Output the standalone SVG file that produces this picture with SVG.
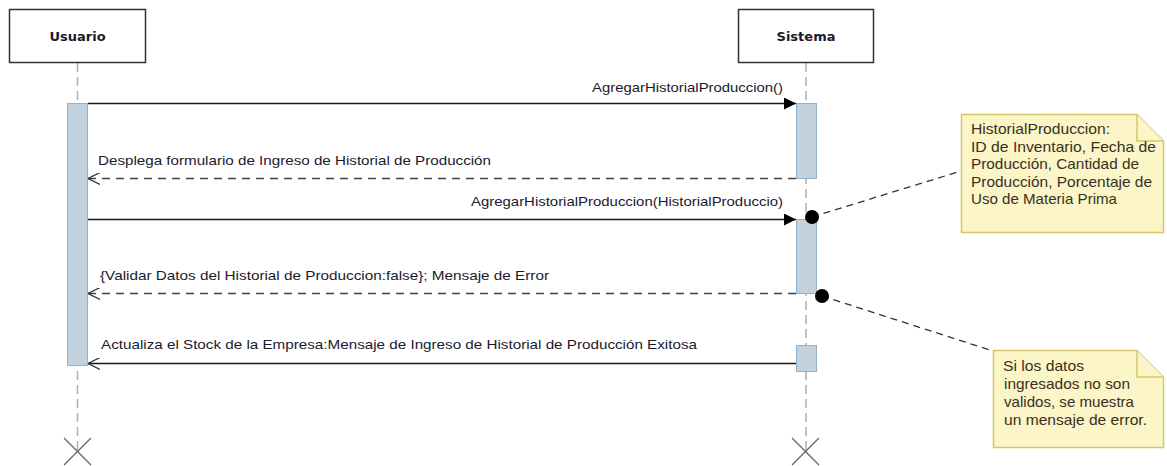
<svg xmlns="http://www.w3.org/2000/svg" width="1167" height="466" viewBox="0 0 1167 466">
<style>
.hd{fill:#fff;stroke:#333;stroke-width:1.5}
.ttl{font-family:"DejaVu Sans",sans-serif;font-weight:bold;font-size:13px;fill:#1a1a2e;text-anchor:middle}
.life{stroke:#b0b0b0;stroke-width:1.5;stroke-dasharray:9 5;fill:none}
.act{fill:#c2d3df;stroke:#8fb3cc;stroke-width:1}
.msg{stroke:#1a1a1a;stroke-width:1.3;fill:none}
.ret{stroke:#444;stroke-width:1.3;fill:none;stroke-dasharray:8 6}
.lbl{font-family:"Liberation Sans",Arial,sans-serif;font-size:13px;fill:#1a1a2e}
.note{fill:#fbf5c8;stroke:#d6c867;stroke-width:1.5}
.ntxt{font-family:"Liberation Sans",Arial,sans-serif;font-size:14.5px;fill:#3a3020}
.anc{stroke:#333;stroke-width:1.3;stroke-dasharray:7 5;fill:none}
.x{stroke:#666;stroke-width:1.3}
</style>
<defs>
<marker id="fill" viewBox="0 0 12 12" refX="12" refY="6" markerWidth="12" markerHeight="12" markerUnits="userSpaceOnUse" orient="auto">
<path d="M0,0 L12,6 L0,12 Z" fill="#000"/>
</marker>
<marker id="open" viewBox="0 0 12 12" refX="12" refY="6" markerWidth="12" markerHeight="12" markerUnits="userSpaceOnUse" orient="auto">
<path d="M0,0 L12,6 L0,12" fill="none" stroke="#333" stroke-width="1.2"/>
</marker>
</defs>
<g id="usuario">
<line class="life" x1="77.5" y1="63" x2="77.5" y2="451"/>
<rect class="hd" x="9.5" y="9.5" width="136" height="53"/>
<text class="ttl" x="77.5" y="41">Usuario</text>
<rect class="act" x="67.5" y="103.5" width="20" height="262"/>
<path class="x" d="M64,438 L91,465 M91,438 L64,465"/>
</g>
<g id="sistema">
<line class="life" x1="806" y1="63" x2="806" y2="451"/>
<rect class="hd" x="738.5" y="9.5" width="135" height="53"/>
<text class="ttl" x="806" y="41">Sistema</text>
<rect class="act" x="796.5" y="103.5" width="20" height="75"/>
<rect class="act" x="796.5" y="219.5" width="20" height="74"/>
<rect class="act" x="796.5" y="345.5" width="20" height="26"/>
<path class="x" d="M792,438 L819,465 M819,438 L792,465"/>
</g>
<g id="connectors">
<line class="msg" x1="88" y1="103.5" x2="796" y2="103.5" marker-end="url(#fill)"/>
<text class="lbl" x="592" y="92" textLength="191" lengthAdjust="spacingAndGlyphs">AgregarHistorialProduccion()</text>
<line class="ret" x1="796" y1="178.5" x2="88" y2="178.5" marker-end="url(#open)"/>
<text class="lbl" x="98" y="165" textLength="393" lengthAdjust="spacingAndGlyphs">Desplega formulario de Ingreso de Historial de Producción</text>
<line class="msg" x1="88" y1="219.5" x2="796" y2="219.5" marker-end="url(#fill)"/>
<text class="lbl" x="471" y="206" textLength="312" lengthAdjust="spacingAndGlyphs">AgregarHistorialProduccion(HistorialProduccio)</text>
<line class="ret" x1="796" y1="293.5" x2="88" y2="293.5" marker-end="url(#open)"/>
<text class="lbl" x="100" y="280" textLength="449" lengthAdjust="spacingAndGlyphs">{Validar Datos del Historial de Produccion:false}; Mensaje de Error</text>
<line class="msg" x1="796" y1="363.5" x2="88" y2="363.5" marker-end="url(#open)"/>
<text class="lbl" x="101" y="349" textLength="596" lengthAdjust="spacingAndGlyphs">Actualiza el Stock de la Empresa:Mensaje de Ingreso de Historial de Producción Exitosa</text>
<line class="anc" x1="812" y1="217" x2="961" y2="171"/>
<circle cx="812" cy="217" r="7" fill="#000"/>
<line class="anc" x1="822" y1="296" x2="993" y2="351"/>
<circle cx="822" cy="296" r="7" fill="#000"/>
</g>
<g id="note1">
<path class="note" d="M961.5,114.5 L1137,114.5 L1163.5,141 L1163.5,232.5 L961.5,232.5 Z"/>
<path class="note" d="M1137,114.5 L1137,141 L1163.5,141"/>
<text class="ntxt" x="971" y="134" textLength="139" lengthAdjust="spacingAndGlyphs">HistorialProduccion:</text>
<text class="ntxt" x="971" y="151.5" textLength="185" lengthAdjust="spacingAndGlyphs">ID de Inventario, Fecha de</text>
<text class="ntxt" x="971" y="169" textLength="168" lengthAdjust="spacingAndGlyphs">Producción, Cantidad de</text>
<text class="ntxt" x="971" y="186.5" textLength="181" lengthAdjust="spacingAndGlyphs">Producción, Porcentaje de</text>
<text class="ntxt" x="971" y="204" textLength="146" lengthAdjust="spacingAndGlyphs">Uso de Materia Prima</text>
</g>
<g id="note2">
<path class="note" d="M993.5,350.5 L1137,350.5 L1163.5,377 L1163.5,447.5 L993.5,447.5 Z"/>
<path class="note" d="M1137,350.5 L1137,377 L1163.5,377"/>
<text class="ntxt" x="1003" y="371" textLength="81" lengthAdjust="spacingAndGlyphs">Si los datos</text>
<text class="ntxt" x="1004" y="389" textLength="126" lengthAdjust="spacingAndGlyphs">ingresados no son</text>
<text class="ntxt" x="1004" y="407" textLength="130" lengthAdjust="spacingAndGlyphs">validos, se muestra</text>
<text class="ntxt" x="1004" y="425" textLength="143" lengthAdjust="spacingAndGlyphs">un mensaje de error.</text>
</g>
</svg>
